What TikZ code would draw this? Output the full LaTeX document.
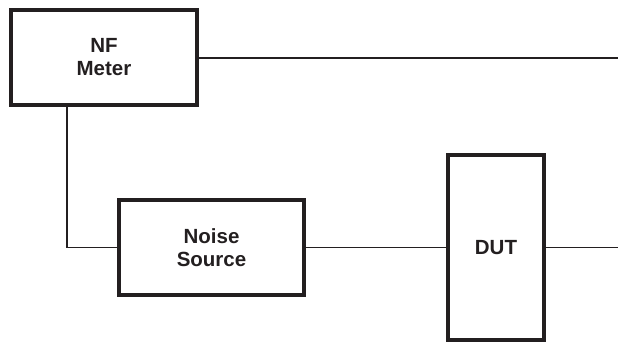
\documentclass[tikz,border=0pt]{standalone}
\usepackage{fontspec}
\setmainfont{Liberation Sans}
\definecolor{ink}{HTML}{231F20}
\begin{document}
\begin{tikzpicture}[x=1pt,y=-1pt,
  blockbox/.style={draw=ink, line width=4pt, fill=white, inner sep=0pt,
    align=center, text=ink, font=\fontsize{20.5}{23}\selectfont\bfseries},
  wire/.style={draw=ink, line width=1.3pt}]
\useasboundingbox (0,0) rectangle (618,343);
\node[blockbox, minimum width=186pt, minimum height=95pt] (nf) at (104,57.5) {NF\\Meter};
\node[blockbox, minimum width=185pt, minimum height=95pt] (ns) at (211.5,247.5) {Noise\\Source};
\node[blockbox, minimum width=96pt, minimum height=185pt] (dut) at (496,247.5) {DUT};
\coordinate (e1) at (618,58);
\coordinate (e2) at (618,247.5);
\coordinate (c1) at (67,247.5);
\draw[wire] (nf.east |- e1) -- (e1);
\draw[wire] (nf.south -| c1) -- (c1) -- (ns.west);
\draw[wire] (ns.east) -- (dut.west);
\draw[wire] (dut.east) -- (e2);
\end{tikzpicture}
\end{document}
